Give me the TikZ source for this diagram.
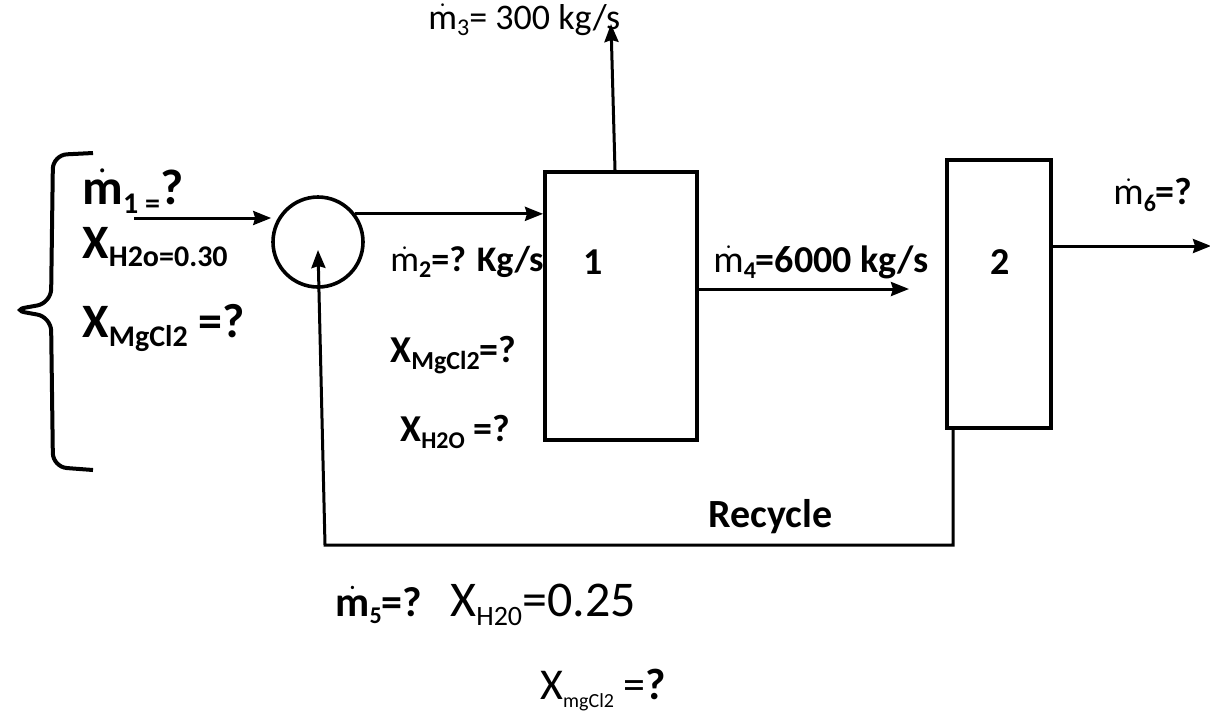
\documentclass[tikz,border=0pt]{standalone}
\usepackage{fontspec}
\setmainfont{Carlito}
\usepackage{amsmath}
\usetikzlibrary{arrows.meta, positioning, calc}
\newcommand{\mdot}{$\dot{\mathrm{m}}$}
\newcommand{\mdotb}{$\dot{\mathbf{m}}$}
\newcommand{\lowsub}[2][12]{\raisebox{-0.35ex}{\fontsize{#1}{#1}\selectfont #2}}

\begin{document}
\begin{tikzpicture}[
    x=0.5pt, y=-0.5pt,
    unit/.style={rectangle, draw, line width=2pt, inner sep=0pt, minimum width=76pt, minimum height=134pt},
    mixer/.style={circle, draw, line width=1.8pt, inner sep=0pt, minimum size=45pt},
    lbl/.style={anchor=west, inner sep=0pt, font=\bfseries\fontsize{19}{22}\selectfont},
    plain/.style={anchor=west, inner sep=0pt, font=\fontsize{19}{22}\selectfont},
    arrow/.style={-{Stealth[length=9pt, width=7pt, inset=1pt]}, line width=1.5pt}
]
    \useasboundingbox (0,0) rectangle (1210,720);

    % Units
    \node[mixer] (mix) at (318,242) {};
    \node[unit] (box1) at (621,306) {};
    \node[unit, minimum width=52pt] (box2) at (999,294) {};
    \node[lbl] (one) at (583,262) {1};
    \node[lbl] (two) at (990,262) {2};

    % Feed brace
    \draw[line width=2pt, rounded corners=7pt] (93,153) -- (53,155) -- (51,303) -- (12,310)
        -- (51,317) -- (53,467) -- (93,470);

    % Feed stream
    \node[lbl, font=\bfseries\fontsize{25}{28}\selectfont] (m1) at (82,191) {\mdotb\lowsub[15]{1 =}?};
    \node[lbl, font=\bfseries\fontsize{24}{26}\selectfont] (xh2o1) at (82,247) {X\lowsub[15]{H2o=0.30}};
    \node[lbl, font=\bfseries\fontsize{24}{26}\selectfont] (xmg1) at (82,328) {X\lowsub[15]{MgCl2} =?};
    \coordinate (in1) at (134,218);
    \draw[arrow] (in1) -- (in1 -| mix.west);

    % Stream 2
    \draw[arrow] (mix.37) -- (mix.37 -| box1.west);
    \node[lbl, font=\bfseries\fontsize{18}{20}\selectfont] (m2) at (390,262) {\mdot\lowsub{2}=? Kg/s};
    \node[lbl] (xmg2) at (390,355) {X\lowsub[13]{MgCl2}=?};
    \node[lbl] (xh2o2) at (400,432) {X\lowsub[12]{H2O} =?};

    % Stream 3
    \node[plain, font=\fontsize{18}{20}\selectfont] (m3) at (428,20) {\mdot\lowsub{3}= 300 kg/s};
    \coordinate (out3) at (611,24);
    \draw[arrow] ([xshift=-3pt]box1.north) -- (out3);

    % Stream 4
    \node[lbl] (m4) at (713,262) {\mdot\lowsub{4}=6000 kg/s};
    \draw[arrow] ([yshift=8.5pt]box1.east) -- ++(210,0);

    % Stream 6
    \node[lbl, font=\bfseries\fontsize{19}{21}\selectfont] (m6) at (1113,195) {\mdot\lowsub{6}=?};
    \draw[arrow] ([yshift=24pt]box2.east) -- ++(158,0);

    % Recycle
    \coordinate (rcy) at (325,545);
    \draw[arrow] ([xshift=4pt]box2.south west) |- (rcy) -- ([yshift=-4pt]mix.center);
    \node[lbl, font=\bfseries\fontsize{20}{22}\selectfont] (recycle) at (708,517) {Recycle};
    \node[lbl, font=\bfseries\fontsize{21}{24}\selectfont] (m5) at (335,605) {\mdotb\lowsub{5}=?};
    \node[plain, font=\fontsize{25}{28}\selectfont] (xh2o5) at (450,605) {X\lowsub[14]{H20}=0.25};
    \node[plain, font=\fontsize{22}{24}\selectfont] (xmg5) at (540,690) {X\lowsub[10]{mgCl2} =\textbf{?}};

\end{tikzpicture}
\end{document}
